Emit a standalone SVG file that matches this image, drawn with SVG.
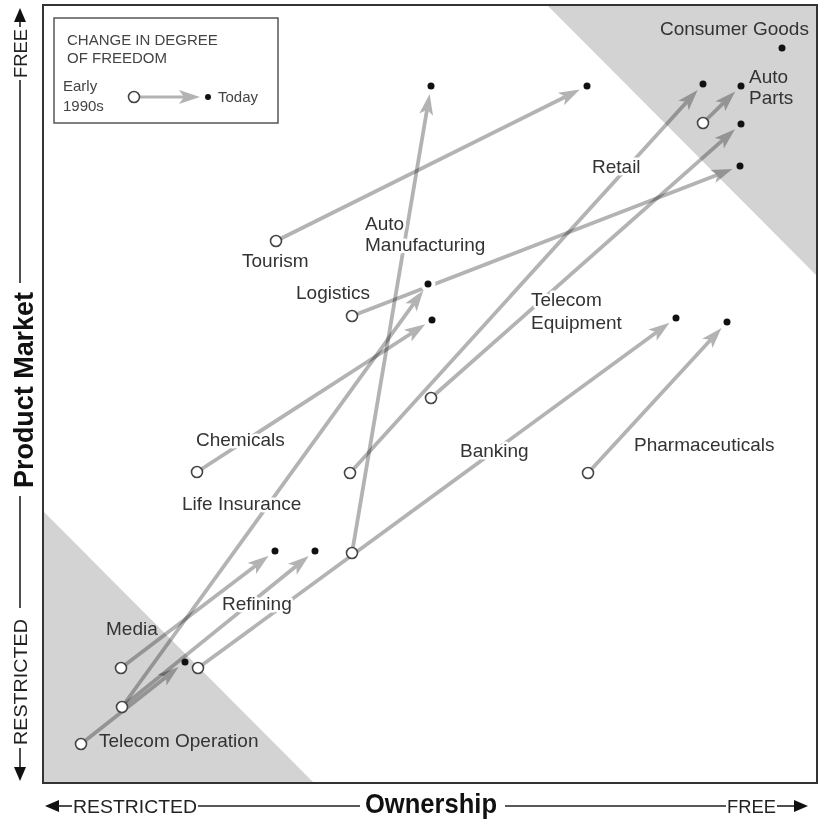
<svg xmlns="http://www.w3.org/2000/svg" width="820" height="822" viewBox="0 0 820 822">
  <style>
    .lbl { font-family: "Liberation Sans", Arial, sans-serif; font-size: 19px; fill: #333; }
    .halo { stroke: #fff; stroke-width: 5px; stroke-linejoin: round; paint-order: stroke; }
    .leg { font-family: "Liberation Sans", Arial, sans-serif; font-size: 15px; fill: #444; }
    .ax { font-family: "Liberation Sans", Arial, sans-serif; font-size: 19px; fill: #222; }
    .axb { font-family: "Liberation Sans", Arial, sans-serif; font-size: 27px; font-weight: bold; fill: #111; }
    .axline { stroke: #222; stroke-width: 1.6; fill: none; }
    .axhead { fill: #111; }
    .arrow { stroke: #b3b3b3; stroke-width: 3.8; fill: none; mix-blend-mode: multiply; marker-end: url(#head); }
    .start { fill: #fff; stroke: #444; stroke-width: 1.6; }
    .end { fill: #111; }
    .dothalo { fill: #fff; }
    .shade { fill: #d3d3d3; }
  </style>
  <defs>
    <marker id="head" viewBox="-6 -8 24 16" refX="0" refY="0" markerWidth="24" markerHeight="16" markerUnits="userSpaceOnUse" orient="auto">
      <path d="M-5,-7 L16,0 L-5,7 L0,0 Z" fill="#b3b3b3"/>
    </marker>
  </defs>

  <rect x="0" y="0" width="820" height="822" fill="#fff"/>

  <!-- plot area with the two shaded corners -->
  <g id="plot">
    <rect x="43" y="5" width="774" height="778" fill="#fff"/>
    <polygon class="shade" points="548,6 816,6 816,275"/>
    <polygon class="shade" points="44,512 44,782 313,782"/>
    <rect x="43" y="5" width="774" height="778" fill="none" stroke="#333" stroke-width="2"/>
  </g>

  <!-- legend -->
  <g id="legend">
    <rect x="54" y="18" width="224" height="105" fill="#fff" stroke="#555" stroke-width="1.5"/>
    <text class="leg" x="67" y="45">CHANGE IN DEGREE</text>
    <text class="leg" x="67" y="63">OF FREEDOM</text>
    <text class="leg" x="63" y="91">Early</text>
    <text class="leg" x="63" y="111">1990s</text>
    <line class="arrow" x1="134" y1="97" x2="184" y2="97" style="stroke-width:3"/>
    <circle class="start" cx="134" cy="97" r="5.5"/>
    <circle class="end" cx="208" cy="97" r="3"/>
    <text class="leg" x="218" y="102">Today</text>
  </g>

  <!-- axes -->
  <g id="axes">
    <polygon class="axhead" points="45,806 59,800 59,812"/>
    <line class="axline" x1="58" y1="806" x2="72" y2="806"/>
    <text class="ax" x="73" y="813" textLength="124" lengthAdjust="spacingAndGlyphs">RESTRICTED</text>
    <line class="axline" x1="198" y1="806" x2="360" y2="806"/>
    <text class="axb" x="365" y="813" textLength="132" lengthAdjust="spacingAndGlyphs">Ownership</text>
    <line class="axline" x1="505" y1="806" x2="726" y2="806"/>
    <text class="ax" x="727" y="813" textLength="49" lengthAdjust="spacingAndGlyphs">FREE</text>
    <line class="axline" x1="777" y1="806" x2="795" y2="806"/>
    <polygon class="axhead" points="808,806 794,800 794,812"/>

    <polygon class="axhead" points="20,8 14,22 26,22"/>
    <line class="axline" x1="20" y1="21" x2="20" y2="27"/>
    <text class="ax" transform="translate(27,78) rotate(-90)" textLength="49" lengthAdjust="spacingAndGlyphs">FREE</text>
    <line class="axline" x1="20" y1="80" x2="20" y2="283"/>
    <text class="axb" transform="translate(33,488) rotate(-90)" textLength="196" lengthAdjust="spacingAndGlyphs">Product Market</text>
    <line class="axline" x1="20" y1="496" x2="20" y2="608"/>
    <text class="ax" transform="translate(27,745) rotate(-90)" textLength="126" lengthAdjust="spacingAndGlyphs">RESTRICTED</text>
    <line class="axline" x1="20" y1="748" x2="20" y2="768"/>
    <polygon class="axhead" points="20,781 14,767 26,767"/>
  </g>

  <!-- change arrows: early 1990s position to today -->
  <g id="connectors">
    <line class="arrow" x1="703" y1="123" x2="723.8" y2="102.7"/>
    <line class="arrow" x1="350" y1="473" x2="686.9" y2="101.8"/>
    <line class="arrow" x1="431" y1="398" x2="723.0" y2="139.9"/>
    <line class="arrow" x1="352" y1="316" x2="717.6" y2="174.7"/>
    <line class="arrow" x1="276" y1="241" x2="565.5" y2="96.7"/>
    <line class="arrow" x1="352" y1="553" x2="427.0" y2="109.7"/>
    <line class="arrow" x1="197" y1="472" x2="411.9" y2="333.0"/>
    <line class="arrow" x1="122" y1="707" x2="413.9" y2="303.4"/>
    <line class="arrow" x1="198" y1="668" x2="656.6" y2="332.2"/>
    <line class="arrow" x1="588" y1="473" x2="710.7" y2="339.7"/>
    <line class="arrow" x1="121" y1="668" x2="255.9" y2="565.5"/>
    <line class="arrow" x1="122" y1="707" x2="296.3" y2="566.1"/>
    <line class="arrow" x1="81" y1="744" x2="166.1" y2="676.9"/>
  </g>

  <!-- industries -->
  <g id="consumer-goods">
    <text class="lbl" x="660" y="35">Consumer Goods</text>
    <circle class="end" cx="782" cy="48" r="3.5"/>
  </g>
  <g id="auto-parts">
    <text class="lbl" x="749" y="83">Auto</text>
    <text class="lbl" x="749" y="104">Parts</text>
    <circle class="start" cx="703" cy="123" r="5.5"/>
    <circle class="end" cx="741" cy="86" r="3.5"/>
  </g>
  <g id="retail">
    <text class="lbl halo" x="592" y="173">Retail</text>
    <circle class="start" cx="350" cy="473" r="5.5"/>
    <circle class="end" cx="703" cy="84" r="3.5"/>
  </g>
  <g id="telecom-equipment">
    <text class="lbl halo" x="531" y="306">Telecom</text>
    <text class="lbl halo" x="531" y="329">Equipment</text>
    <circle class="start" cx="431" cy="398" r="5.5"/>
    <circle class="end" cx="741" cy="124" r="3.5"/>
  </g>
  <g id="logistics">
    <text class="lbl halo" x="296" y="299">Logistics</text>
    <circle class="start" cx="352" cy="316" r="5.5"/>
    <circle class="end" cx="740" cy="166" r="3.5"/>
  </g>
  <g id="tourism">
    <text class="lbl halo" x="242" y="267">Tourism</text>
    <circle class="start" cx="276" cy="241" r="5.5"/>
    <circle class="end" cx="587" cy="86" r="3.5"/>
  </g>
  <g id="auto-manufacturing">
    <text class="lbl halo" x="365" y="230">Auto</text>
    <text class="lbl halo" x="365" y="251">Manufacturing</text>
    <circle class="start" cx="352" cy="553" r="5.5"/>
    <circle class="end" cx="431" cy="86" r="3.5"/>
  </g>
  <g id="chemicals">
    <text class="lbl halo" x="196" y="446">Chemicals</text>
    <circle class="start" cx="197" cy="472" r="5.5"/>
    <circle class="end" cx="432" cy="320" r="3.5"/>
  </g>
  <g id="life-insurance">
    <text class="lbl halo" x="182" y="510">Life Insurance</text>
    <circle class="start" cx="122" cy="707" r="5.5"/>
    <circle class="dothalo" cx="428" cy="284" r="7.5"/>
    <circle class="end" cx="428" cy="284" r="3.5"/>
  </g>
  <g id="banking">
    <text class="lbl halo" x="460" y="457">Banking</text>
    <circle class="start" cx="198" cy="668" r="5.5"/>
    <circle class="end" cx="676" cy="318" r="3.5"/>
  </g>
  <g id="pharmaceuticals">
    <text class="lbl halo" x="634" y="451">Pharmaceuticals</text>
    <circle class="start" cx="588" cy="473" r="5.5"/>
    <circle class="end" cx="727" cy="322" r="3.5"/>
  </g>
  <g id="media">
    <text class="lbl" x="106" y="635">Media</text>
    <circle class="start" cx="121" cy="668" r="5.5"/>
    <circle class="end" cx="275" cy="551" r="3.5"/>
  </g>
  <g id="refining">
    <text class="lbl halo" x="222" y="610">Refining</text>
    <circle class="end" cx="315" cy="551" r="3.5"/>
  </g>
  <g id="telecom-operation">
    <text class="lbl" x="99" y="747">Telecom Operation</text>
    <circle class="start" cx="81" cy="744" r="5.5"/>
    <circle class="end" cx="185" cy="662" r="3.5"/>
  </g>
</svg>
